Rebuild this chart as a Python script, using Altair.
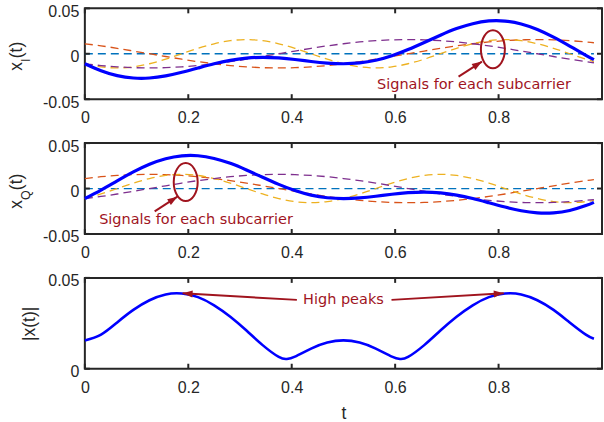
import altair as alt
import pandas as pd

# ---------------- data ----------------
T = [0.0, 0.03125, 0.0625, 0.09375, 0.125, 0.15625, 0.1875, 0.21875, 0.25, 0.28125,
     0.3125, 0.34375, 0.375, 0.40625, 0.4375, 0.46875, 0.5, 0.53125, 0.5625, 0.59375,
     0.625, 0.65625, 0.6875, 0.71875, 0.75, 0.78125, 0.8125, 0.84375, 0.875, 0.90625,
     0.9375, 0.96875, 0.984375]

# in-phase components of each subcarrier
SC0_I = [0.0, 0.0, 0.0, 0.0, 0.0, 0.0, 0.0, 0.0, 0.0, 0.0, 0.0, 0.0, 0.0, 0.0, 0.0, 0.0,
         0.0, 0.0, 0.0, 0.0, 0.0, 0.0, 0.0, 0.0, 0.0, 0.0, 0.0, 0.0, 0.0, 0.0, 0.0, 0.0, 0.0]
SC1_I = [0.0110, 0.0087, 0.0060, 0.0030, 0.0, -0.0030, -0.0060, -0.0087, -0.0110, -0.0130,
         -0.0144, -0.0153, -0.0156, -0.0153, -0.0144, -0.0130, -0.0110, -0.0087, -0.0060, -0.0030,
         0.0, 0.0030, 0.0060, 0.0087, 0.0110, 0.0130, 0.0144, 0.0153, 0.0156, 0.0153,
         0.0144, 0.0130, 0.0121]
SC2_I = [-0.0110, -0.0144, -0.0156, -0.0144, -0.0110, -0.0060, 0.0, 0.0060, 0.0110, 0.0144,
         0.0156, 0.0144, 0.0110, 0.0060, 0.0, -0.0060, -0.0110, -0.0144, -0.0156, -0.0144,
         -0.0110, -0.0060, 0.0, 0.0060, 0.0110, 0.0144, 0.0156, 0.0144, 0.0110, 0.0060,
         0.0, -0.0060, -0.0087]
SC3_I = [-0.0110, -0.0130, -0.0144, -0.0153, -0.0156, -0.0153, -0.0144, -0.0130, -0.0110, -0.0087,
         -0.0060, -0.0030, 0.0, 0.0030, 0.0060, 0.0087, 0.0110, 0.0130, 0.0144, 0.0153,
         0.0156, 0.0153, 0.0144, 0.0130, 0.0110, 0.0087, 0.0060, 0.0030, 0.0, -0.0030,
         -0.0060, -0.0087, -0.0099]
X_I = [-0.0110, -0.0187, -0.0241, -0.0267, -0.0267, -0.0244, -0.0204, -0.0157, -0.0110, -0.0072,
       -0.0048, -0.0039, -0.0046, -0.0063, -0.0085, -0.0103, -0.0110, -0.0101, -0.0072, -0.0022,
       0.0046, 0.0124, 0.0204, 0.0277, 0.0331, 0.0361, 0.0360, 0.0328, 0.0267, 0.0183,
       0.0085, -0.0017, -0.0065]

# quadrature components of each subcarrier
SC0_Q = [0.0, 0.0, 0.0, 0.0, 0.0, 0.0, 0.0, 0.0, 0.0, 0.0, 0.0, 0.0, 0.0, 0.0, 0.0, 0.0,
         0.0, 0.0, 0.0, 0.0, 0.0, 0.0, 0.0, 0.0, 0.0, 0.0, 0.0, 0.0, 0.0, 0.0, 0.0, 0.0, 0.0]
SC1_Q = [0.0110, 0.0130, 0.0144, 0.0153, 0.0156, 0.0153, 0.0144, 0.0130, 0.0110, 0.0087,
         0.0060, 0.0030, 0.0, -0.0030, -0.0060, -0.0087, -0.0110, -0.0130, -0.0144, -0.0153,
         -0.0156, -0.0153, -0.0144, -0.0130, -0.0110, -0.0087, -0.0060, -0.0030, 0.0, 0.0030,
         0.0060, 0.0087, 0.0099]
SC2_Q = [-0.0110, -0.0060, 0.0, 0.0060, 0.0110, 0.0144, 0.0156, 0.0144, 0.0110, 0.0060,
         0.0, -0.0060, -0.0110, -0.0144, -0.0156, -0.0144, -0.0110, -0.0060, 0.0, 0.0060,
         0.0110, 0.0144, 0.0156, 0.0144, 0.0110, 0.0060, 0.0, -0.0060, -0.0110, -0.0144,
         -0.0156, -0.0144, -0.0130]
SC3_Q = [-0.0110, -0.0087, -0.0060, -0.0030, 0.0, 0.0030, 0.0060, 0.0087, 0.0110, 0.0130,
         0.0144, 0.0153, 0.0156, 0.0153, 0.0144, 0.0130, 0.0110, 0.0087, 0.0060, 0.0030,
         0.0, -0.0030, -0.0060, -0.0087, -0.0110, -0.0130, -0.0144, -0.0153, -0.0156, -0.0153,
         -0.0144, -0.0130, -0.0121]
X_Q = [-0.0110, -0.0017, 0.0085, 0.0183, 0.0267, 0.0328, 0.0360, 0.0361, 0.0331, 0.0277,
       0.0204, 0.0124, 0.0046, -0.0022, -0.0072, -0.0101, -0.0110, -0.0103, -0.0085, -0.0063,
       -0.0046, -0.0039, -0.0048, -0.0072, -0.0110, -0.0157, -0.0204, -0.0244, -0.0267, -0.0267,
       -0.0241, -0.0187, -0.0152]

# envelope |x(t)|
T_ABS = [0.0, 0.03125, 0.0625, 0.09375, 0.125, 0.15625, 0.1875, 0.21875, 0.25, 0.28125,
         0.3125, 0.34375, 0.375, 0.390625, 0.40625, 0.4375, 0.46875, 0.5, 0.53125, 0.5625,
         0.59375, 0.609375, 0.625, 0.65625, 0.6875, 0.71875, 0.75, 0.78125, 0.8125, 0.84375,
         0.875, 0.90625, 0.9375, 0.96875, 0.984375]
X_ABS = [0.0156, 0.0188, 0.0255, 0.0324, 0.0377, 0.0409, 0.0414, 0.0394, 0.0349, 0.0286,
         0.0210, 0.0130, 0.0065, 0.0054, 0.0067, 0.0111, 0.0144, 0.0156, 0.0144, 0.0111,
         0.0067, 0.0054, 0.0065, 0.0130, 0.0210, 0.0286, 0.0349, 0.0394, 0.0414, 0.0409,
         0.0377, 0.0324, 0.0255, 0.0188, 0.0165]

SUBCARRIERS = ["0", "1", "2", "3"]
X_TICKS = [0, 0.2, 0.4, 0.6, 0.8, 1]
Y_TICKS_IQ = [-0.05, 0, 0.05]
Y_TICKS_ABS = [0, 0.05]

# ---------------- styling ----------------
W, H = 518, 91
SC_COLORS = ["#0072BD", "#D95319", "#EDB120", "#7E2F8E"]
SUM_COLOR = "#0000FF"
ANN = "#A0141E"
AXC = "#262626"
FONT = "Liberation Sans"
ANN_FONT = "DejaVu Sans"
ELLIPSE = "M-0.6,0 A0.6,0.95 0 1,0 0.6,0 A0.6,0.95 0 1,0 -0.6,0 Z"
HEAD = "M0,0 L-0.7,2 L0.7,2 Z"


def xaxis(title=None):
    # the label at t = 1 sits on the page edge; it is left empty so the page does not overflow
    kw = dict(values=X_TICKS, labelExpr="datum.value == 1 ? '' : '' + datum.value",
              ticks=False, domain=False,
              grid=False, labelFlush=False, labelPadding=10.5, labelFont=FONT,
              labelFontSize=16, labelColor=AXC)
    if title:
        kw.update(title=title, titleFont=FONT, titleFontSize=17.5, titleColor=AXC,
                  titleFontWeight="normal", titlePadding=9)
    else:
        kw.update(title=None)
    return alt.Axis(**kw)


def yaxis(vals):
    return alt.Axis(values=vals, labelExpr="'' + datum.value", ticks=False, domain=False,
                    grid=False, labelFlush=False, labelPadding=6, labelOffset=3,
                    labelFont=FONT, labelFontSize=16, labelColor=AXC, title=None)


def panel(sc_series, sum_t, sum_v, ydom, yticks, xtitle, sum_width, interp, extra):
    xs = alt.Scale(domain=[0, 1], nice=False, zero=False)
    ys = alt.Scale(domain=ydom, nice=False, zero=False)
    xa = xaxis(xtitle)
    ya = yaxis(yticks)
    X = lambda f: alt.X(f, scale=xs, axis=xa)
    Y = lambda f: alt.Y(f, scale=ys, axis=ya)
    layers = []
    if sc_series:
        frames = [pd.DataFrame({"t": T, "v": s, "sc": n}) for s, n in zip(sc_series, SUBCARRIERS)]
        dfs = pd.concat(frames, ignore_index=True)
        layers.append(
            alt.Chart(dfs).mark_line(strokeDash=[8, 5], strokeWidth=1.3, interpolate="natural")
            .encode(x=X("t:Q"), y=Y("v:Q"),
                    color=alt.Color("sc:N", scale=alt.Scale(domain=SUBCARRIERS, range=SC_COLORS),
                                    legend=None))
        )
    layers.append(
        alt.Chart(pd.DataFrame({"t": sum_t, "v": sum_v}))
        .mark_line(color=SUM_COLOR, strokeWidth=sum_width, interpolate=interp)
        .encode(x=X("t:Q"), y=Y("v:Q"))
    )
    xt = pd.DataFrame({"t": X_TICKS})
    yt = pd.DataFrame({"v": yticks})
    tick = dict(color=AXC, strokeWidth=2)
    layers.append(alt.Chart(xt).mark_rule(**tick).encode(
        x=X("t:Q"), y=alt.value(0), y2=alt.value(5)))
    layers.append(alt.Chart(xt).mark_rule(**tick).encode(
        x=X("t:Q"), y=alt.value(H - 5), y2=alt.value(H)))
    layers.append(alt.Chart(yt).mark_rule(**tick).encode(
        y=Y("v:Q"), x=alt.value(0), x2=alt.value(5)))
    layers.append(alt.Chart(yt).mark_rule(**tick).encode(
        y=Y("v:Q"), x=alt.value(W - 5), x2=alt.value(W)))
    layers += extra(X, Y)
    return alt.layer(*layers).properties(width=W, height=H)


def arrows(X, Y, rows):
    df = pd.DataFrame(rows, columns=["t", "v", "t1", "v1", "ang"])
    shaft = alt.Chart(df).mark_rule(color=ANN, strokeWidth=2).encode(
        x=X("t:Q"), y=Y("v:Q"), x2="t1:Q", y2="v1:Q")
    head = alt.Chart(df).transform_calculate(th="datum.t1", vh="datum.v1").mark_point(
        shape=HEAD, size=100, filled=True, color=ANN, opacity=1).encode(
        x=X("th:Q"), y=Y("vh:Q"), angle=alt.Angle("ang:Q", scale=None))
    return [shaft, head]


def ellipse(X, Y, t, v):
    return alt.Chart(pd.DataFrame({"t": [t], "v": [v]})).mark_point(
        shape=ELLIPSE, size=1600, filled=False, color=ANN, strokeWidth=2, opacity=1).encode(
        x=X("t:Q"), y=Y("v:Q"))


def label(X, Y, t, v, text, align):
    return alt.Chart(pd.DataFrame({"t": [t], "v": [v]})).mark_text(
        text=text, font=ANN_FONT, fontSize=14.5, color=ANN, align=align,
        baseline="alphabetic").encode(x=X("t:Q"), y=Y("v:Q"))


def ytitle(parts):
    out = []
    for txt, fs, px, py in parts:
        out.append(alt.Chart(pd.DataFrame({"a": [0]})).mark_text(
            text=txt, font=FONT, fontSize=fs, color=AXC, angle=270, align="left",
            baseline="alphabetic").encode(x=alt.value(px), y=alt.value(py)))
    return out


def extra_i(X, Y):
    return ([ellipse(X, Y, 0.789, 0.0049)]
            + arrows(X, Y, [[0.7226, -0.0251, 0.7678, -0.0086, 57.3]])
            + [label(X, Y, 0.565, -0.0390, "Signals for each subcarrier", "left")]
            + ytitle([("x", 17.5, -63, 62.5), ("I", 12.5, -55, 53.7), ("(t)", 17.5, -63, 50.0)]))


def extra_q(X, Y):
    return ([ellipse(X, Y, 0.195, 0.0071)]
            + arrows(X, Y, [[0.135, -0.0251, 0.179, -0.0090, 57.3]])
            + [label(X, Y, 0.0276, -0.0390, "Signals for each subcarrier", "left")]
            + ytitle([("x", 17.5, -63, 65.7), ("Q", 12.5, -55, 56.9), ("(t)", 17.5, -63, 47.1)]))


def extra_abs(X, Y):
    t = alt.Chart(pd.DataFrame({"a": [0]})).mark_text(
        text="|x(t)|", font=FONT, fontSize=17.5, color=AXC, angle=270, align="center",
        baseline="alphabetic").encode(x=alt.value(-50), y=alt.value(46))
    return ([label(X, Y, 0.5, 0.0357, "High peaks", "center")]
            + arrows(X, Y, [[0.410, 0.0379, 0.189, 0.0415, 273.3],
                            [0.593, 0.0379, 0.810, 0.0415, 86.7]])
            + [t])


p1 = panel([SC0_I, SC1_I, SC2_I, SC3_I], T, X_I, [-0.05, 0.05], Y_TICKS_IQ, None, 3.2, "natural", extra_i)
p2 = panel([SC0_Q, SC1_Q, SC2_Q, SC3_Q], T, X_Q, [-0.05, 0.05], Y_TICKS_IQ, None, 3.2, "natural", extra_q)
p3 = panel(None, T_ABS, X_ABS, [0, 0.05], Y_TICKS_ABS, "t", 2.6, "natural", extra_abs)

chart = (
    alt.vconcat(p1, p2, p3, spacing=10)
    .properties(padding={"left": 6, "top": 2, "right": 0, "bottom": 0}, background="white")
    .configure_view(stroke=AXC, strokeWidth=2)
)

chart.save("out.html", embed_options={"renderer": "svg", "actions": False})
